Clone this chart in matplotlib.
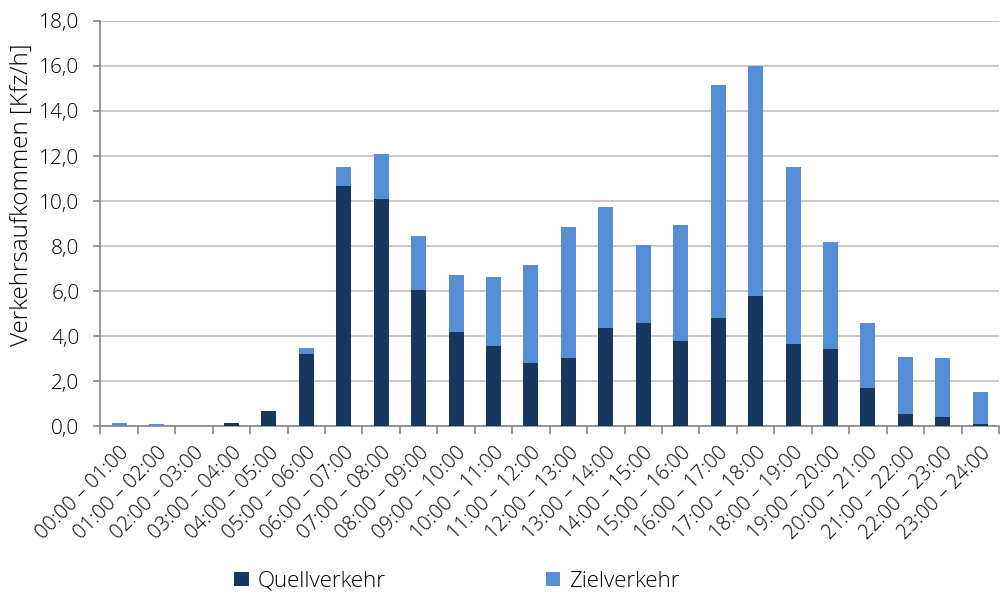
import numpy as np
import matplotlib.pyplot as plt
from matplotlib.ticker import FuncFormatter, MultipleLocator

plt.rcParams['font.family'] = ['Open Sans', 'DejaVu Sans']
plt.rcParams['font.weight'] = 'light'
plt.rcParams['text.color'] = '#000000'

# Daten (Stundenintervalle)
zeiten = ["00:00 – 01:00", "01:00 – 02:00", "02:00 – 03:00", "03:00 – 04:00",
          "04:00 – 05:00", "05:00 – 06:00", "06:00 – 07:00", "07:00 – 08:00",
          "08:00 – 09:00", "09:00 – 10:00", "10:00 – 11:00", "11:00 – 12:00",
          "12:00 – 13:00", "13:00 – 14:00", "14:00 – 15:00", "15:00 – 16:00",
          "16:00 – 17:00", "17:00 – 18:00", "18:00 – 19:00", "19:00 – 20:00",
          "20:00 – 21:00", "21:00 – 22:00", "22:00 – 23:00", "23:00 – 24:00"]
quell = [0.0, 0.0, 0.0, 0.15, 0.7, 3.2, 10.65, 10.1, 6.05, 4.2, 3.55, 2.8,
         3.05, 4.35, 4.6, 3.8, 4.8, 5.8, 3.65, 3.45, 1.7, 0.55, 0.4, 0.1]
gesamt = [0.15, 0.12, 0.0, 0.15, 0.7, 3.5, 11.5, 12.1, 8.45, 6.7, 6.65, 7.15,
          8.85, 9.75, 8.05, 8.95, 15.15, 16.0, 11.5, 8.2, 4.6, 3.1, 3.05, 1.55]
ziel = [g - q for g, q in zip(gesamt, quell)]

dunkel = '#17375E'
hell = '#558ED5'

fig = plt.figure(figsize=(10.04, 5.94), dpi=100)
ax = fig.add_axes([0.1, 0.282, 0.895, 0.683])

x = np.arange(len(zeiten))
ax.bar(x, quell, width=0.4, color=dunkel, label='Quellverkehr', zorder=3)
ax.bar(x, ziel, width=0.4, bottom=quell, color=hell, label='Zielverkehr', zorder=3)

ax.set_xlim(-0.5, len(zeiten) - 0.5)
ax.set_ylim(0, 18)
ax.yaxis.set_major_locator(MultipleLocator(2))
ax.yaxis.set_major_formatter(FuncFormatter(lambda v, p: f'{v:.1f}'.replace('.', ',')))
ax.grid(axis='y', color='#BFBFBF', linewidth=1.2, zorder=0)

ax.set_xticks(x)
ax.set_xticklabels(zeiten, rotation=45, ha='right', rotation_mode='anchor', fontsize=14.5)
ax.tick_params(axis='x', length=0, pad=12, labelcolor='#000000')
ax.set_xticks(np.arange(-0.5, len(zeiten)), minor=True)
ax.tick_params(axis='x', which='minor', length=6, color='#868686', width=1.2)
ax.tick_params(axis='y', labelsize=15, length=5, color='#868686', width=1.2, pad=10,
               labelcolor='#000000')

for s in ['top', 'right']:
    ax.spines[s].set_visible(False)
for s in ['left', 'bottom']:
    ax.spines[s].set_color('#868686')
    ax.spines[s].set_linewidth(1.2)

fig.text(0.022, 0.672, 'Verkehrsaufkommen [Kfz/h]', rotation=90, ha='center', va='center',
         fontsize=17.5)

fig.legend(loc='lower center', bbox_to_anchor=(0.455, -0.03), ncol=2, frameon=False,
           fontsize=16, columnspacing=7.2, handlelength=0.65, handleheight=0.65, handletextpad=0.4)

fig.savefig('out.png', dpi=100)
